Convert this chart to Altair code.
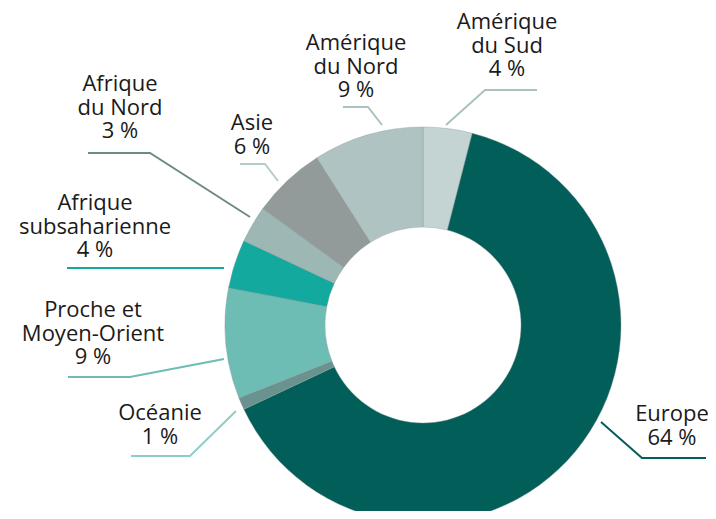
import altair as alt
import pandas as pd

# --- data ---
regions = ["Amérique du Sud", "Europe", "Océanie", "Proche et Moyen-Orient",
           "Afrique subsaharienne", "Afrique du Nord", "Asie", "Amérique du Nord"]
values = [4, 64, 1, 9, 4, 3, 6, 9]
labels = ["Amérique\ndu Sud", "Europe", "Océanie", "Proche et\nMoyen-Orient",
          "Afrique\nsubsaharienne", "Afrique\ndu Nord", "Asie", "Amérique\ndu Nord"]
slice_colors = ["#C3D4D3", "#025E59", "#6A928F", "#6DBDB5",
                "#14A99F", "#9DB7B5", "#939A9A", "#AFC3C2"]
line_colors = ["#A9C2C0", "#025E59", "#8DCEC7", "#6DBDB5",
               "#14A99F", "#6E8A87", "#B5CCCB", "#A9C2C0"]

# --- layout (label anchor = first line centre, leader-line elbows, in pixels) ---
label_pos = [(499, 14), (664, 406), (152, 405), (85, 302),
             (87, 195), (112, 76), (244, 115), (348, 35)]
leader_paths = [
    [(529, 82), (477, 82), (438, 117)],
    [(698, 450), (634, 450), (593, 414)],
    [(123, 448), (182, 448), (228, 403)],
    [(60, 369), (122, 369), (216, 351)],
    [(59, 260), (216, 260)],
    [(80, 145), (142, 145), (242, 209)],
    [(232, 156), (257, 156), (270, 173)],
    [(335, 99), (360, 99), (374, 117)],
]

pie_df = pd.DataFrame({
    "region": regions,
    "value": values,
    "ordre": list(range(len(regions))),
})

lbl_df = pd.DataFrame({
    "region": regions,
    "text": [f"{l}\n{v}\u00a0%" for l, v in zip(labels, values)],
    "lx": [p[0] for p in label_pos],
    "ly": [p[1] for p in label_pos],
})

rows = []
for r, path in zip(regions, leader_paths):
    for i, (px, py) in enumerate(path):
        rows.append({"region": r, "px": px, "py": py, "i": i})
line_df = pd.DataFrame(rows)

arc = alt.Chart(pie_df).mark_arc(outerRadius=198, innerRadius=98,
                                 stroke="#8a9a99", strokeWidth=0.4).encode(
    theta=alt.Theta("value:Q", stack=True),
    order=alt.Order("ordre:Q"),
    color=alt.Color("region:N", scale=alt.Scale(domain=regions, range=slice_colors), legend=None),
    x=alt.value(415),
    y=alt.value(317),
)

leaders = alt.Chart(line_df).mark_line(strokeWidth=2).encode(
    x=alt.X("px:Q", scale=None, axis=None),
    y=alt.Y("py:Q", scale=None, axis=None),
    detail="region:N",
    order="i:Q",
    color=alt.Color("region:N", scale=alt.Scale(domain=regions, range=line_colors), legend=None),
)

texts = alt.Chart(lbl_df).mark_text(
    font="Open Sans", fontSize=22, lineBreak="\n", lineHeight=23.5,
    align="center", baseline="middle", color="#1a1a1a"
).encode(
    x=alt.X("lx:Q", scale=None, axis=None),
    y=alt.Y("ly:Q", scale=None, axis=None),
    text="text:N",
)

chart = alt.layer(arc, leaders, texts).resolve_scale(color="independent").properties(
    width=700, height=503, autosize="none", padding=0
).configure_view(stroke=None)

chart.save("out.html", embed_options={"renderer": "svg", "actions": False})
